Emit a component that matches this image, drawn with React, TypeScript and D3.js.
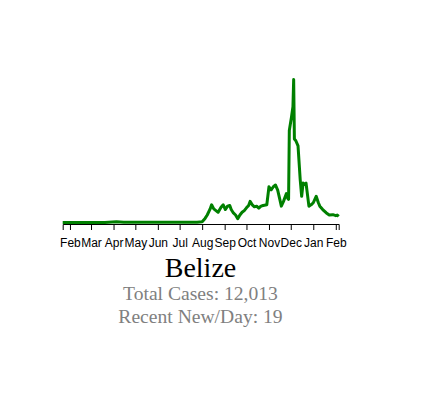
import * as d3 from "d3";
import { useRef, useEffect } from "react";

// daily new cases
const dates = [
  "2020-01-22", "2020-03-20", "2020-04-05", "2020-04-15", "2020-07-25", "2020-08-01",
  "2020-08-05", "2020-08-08", "2020-08-12", "2020-08-14", "2020-08-17", "2020-08-20",
  "2020-08-23", "2020-08-27", "2020-08-30", "2020-09-02", "2020-09-05", "2020-09-08",
  "2020-09-10", "2020-09-13", "2020-09-16", "2020-09-19", "2020-09-22", "2020-09-25",
  "2020-09-28", "2020-10-01", "2020-10-04", "2020-10-06", "2020-10-09", "2020-10-12",
  "2020-10-15", "2020-10-18", "2020-10-21", "2020-10-24", "2020-10-29", "2020-11-01",
  "2020-11-04", "2020-11-07", "2020-11-10", "2020-11-13", "2020-11-16", "2020-11-18",
  "2020-11-21", "2020-11-25", "2020-11-27", "2020-11-28", "2020-11-29", "2020-12-02",
  "2020-12-04", "2020-12-05", "2020-12-06", "2020-12-08", "2020-12-11", "2020-12-14",
  "2020-12-16", "2020-12-18", "2020-12-20", "2020-12-22", "2020-12-26", "2020-12-29",
  "2021-01-01", "2021-01-05", "2021-01-08", "2021-01-10", "2021-01-14", "2021-01-19",
  "2021-01-23", "2021-01-28", "2021-02-01", "2021-02-03", "2021-02-05",
];
const newCases = [
  0, 0, 2, 1, 1, 2,
  12, 22, 40, 52, 40, 35,
  30, 45, 52, 38, 48, 50,
  38, 28, 22, 11, 22, 30,
  35, 43, 50, 62, 52, 46,
  48, 42, 48, 50, 52, 105,
  96, 105, 110, 95, 67, 48,
  62, 85, 70, 68, 270, 310,
  340, 420, 245, 240, 225, 126,
  77, 116, 112, 116, 48, 52,
  58, 77, 58, 48, 38, 28,
  22, 23, 20, 22, 18,
];
const country = "Belize";
const totalCases = 12013;
const recentPerDay = 19;

export default function App() {
  const svgRef = useRef<SVGSVGElement | null>(null);

  useEffect(() => {
    const svg = d3.select(svgRef.current);
    svg.selectAll("*").remove();

    const parse = d3.timeParse("%Y-%m-%d");
    const data = dates.map((d, i) => ({ date: parse(d) as Date, value: newCases[i] }));

    const x = d3.scaleTime()
      .domain([parse("2020-01-22") as Date, parse("2021-02-05") as Date])
      .range([62.7, 338.7]);
    const y = d3.scaleLinear()
      .domain([0, d3.max(newCases) || 0])
      .range([222.5, 79.5]);

    // line first, axis drawn on top
    svg.append("path")
      .datum(data)
      .attr("fill", "none")
      .attr("stroke", "green")
      .attr("stroke-width", 3)
      .attr("stroke-linejoin", "round")
      .attr("d", d3.line<{ date: Date; value: number }>()
        .x(d => x(d.date))
        .y(d => y(d.value)));

    svg.append("g")
      .attr("transform", "translate(0,224)")
      .call(d3.axisBottom(x)
        .ticks(d3.timeMonth.every(1))
        .tickFormat(d3.timeFormat("%b") as any)
        .tickPadding(8))
      .call(g => g.selectAll("text")
        .attr("font-size", 12)
        .attr("font-family", "Arial, 'Liberation Sans', sans-serif"));

    const cx = 200.5;
    const serif = "'Times New Roman', 'Liberation Serif', serif";
    svg.append("text")
      .attr("x", cx).attr("y", 277)
      .attr("text-anchor", "middle")
      .attr("font-family", serif)
      .attr("font-size", 28)
      .attr("fill", "black")
      .text(country);
    svg.append("text")
      .attr("x", cx).attr("y", 300)
      .attr("text-anchor", "middle")
      .attr("font-family", serif)
      .attr("font-size", 19.6)
      .attr("fill", "gray")
      .text(`Total Cases: ${d3.format(",")(totalCases)}`);
    svg.append("text")
      .attr("x", cx).attr("y", 323)
      .attr("text-anchor", "middle")
      .attr("font-family", serif)
      .attr("font-size", 19.6)
      .attr("fill", "gray")
      .text(`Recent New/Day: ${recentPerDay}`);
  }, []);

  return (
    <svg ref={svgRef} width={424} height={413}
      style={{ position: "absolute", left: 0, top: 0 }} />
  );
}
